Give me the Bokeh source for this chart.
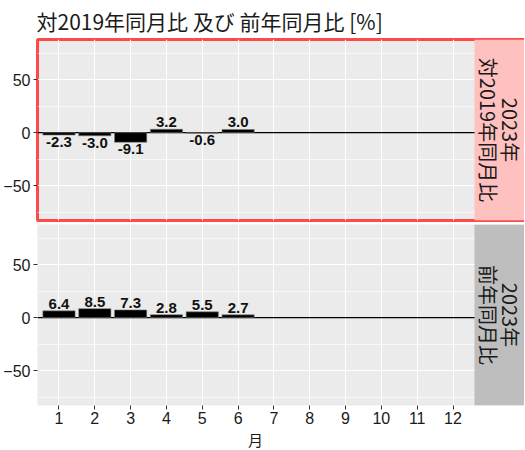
import math
from bokeh.plotting import figure
from bokeh.layouts import column
from bokeh.models import FixedTicker, Span, Title, Range1d
from bokeh.core.properties import value
from bokeh.embed import file_html
from bokeh.resources import INLINE

# ---- data ----
months = [1, 2, 3, 4, 5, 6]
vs2019 = [-2.3, -3.0, -9.1, 3.2, -0.6, 3.0]
vs_prev_year = [6.4, 8.5, 7.3, 2.8, 5.5, 2.7]
x_ticks = list(range(1, 13))
y_ticks = [-50, 0, 50]
y_minor = [-75, -25, 25, 75]
strip_labels = ["2023年\n対2019年同月比", "2023年\n前年同月比"]
strip_colors = ["#FFC0C0", "#BEBEBE"]
title_text = "対2019年同月比 及び 前年同月比 [%]"
x_label = "月"

# ---- layout constants ----
PANEL_PX = 437
STRIP_PX = 50
FRAME_W = PANEL_PX + STRIP_PX
FRAME_H = 181
X0, X1 = 0.4, 12.6
UNIT = PANEL_PX / (X1 - X0)
XS = X1 + STRIP_PX / UNIT
Y0, Y1 = -83, 88

CJK = "Noto Sans CJK JP"
LAT = "Liberation Sans"


def make_panel(vals, strip_text, strip_color, top):
    p = figure(frame_width=FRAME_W, frame_height=FRAME_H,
               x_range=Range1d(X0, XS), y_range=Range1d(Y0, Y1),
               output_backend="svg", toolbar_location=None,
               min_border_left=32, min_border_right=0,
               min_border_top=0 if top else 2,
               min_border_bottom=2 if top else 0)
    p.background_fill_color = "#EBEBEB"
    p.border_fill_color = "white"
    if top:
        p.outline_line_color = "#FF2A2A"
        p.outline_line_width = 3
        p.outline_line_alpha = 0.85
        p.title.text = title_text
        p.title.text_font = CJK
        p.title.text_font_size = "21px"
        p.title.text_font_style = "normal"
        p.title.text_color = "#1A1A1A"
        p.title.align = "left"
        p.title.standoff = 7
        p.title.offset = -1
    else:
        p.outline_line_color = None

    # axes
    p.xaxis.ticker = FixedTicker(ticks=x_ticks)
    p.yaxis.ticker = FixedTicker(ticks=y_ticks, minor_ticks=y_minor)
    for ax in (p.xaxis[0], p.yaxis[0]):
        ax.axis_line_color = None
        ax.major_tick_line_color = "#333333"
        ax.major_tick_out = 4
        ax.major_tick_in = 0
        ax.minor_tick_line_color = None
        ax.major_label_text_font = LAT
        ax.major_label_text_font_size = "16px"
        ax.major_label_text_color = "#1A1A1A"
        ax.major_label_standoff = 3
    p.xaxis.major_label_standoff = 2
    if top:
        p.xaxis.visible = False
    # grids
    p.xgrid.ticker = FixedTicker(ticks=x_ticks)
    p.ygrid.ticker = FixedTicker(ticks=y_ticks, minor_ticks=y_minor)
    p.grid.grid_line_color = "white"
    p.grid.grid_line_width = 1.1
    p.ygrid.minor_grid_line_color = "white"
    p.ygrid.minor_grid_line_width = 0.6

    p.add_layout(Span(location=0, dimension="width", line_color="black",
                      line_width=1.3, level="underlay"))

    p.vbar(x=months, top=vals, bottom=0, width=0.9, fill_color="black",
           line_color="#808080", line_width=0.6)

    pos_x = [m for m, v in zip(months, vals) if v >= 0]
    pos_y = [v for v in vals if v >= 0]
    neg_x = [m for m, v in zip(months, vals) if v < 0]
    neg_y = [v for v in vals if v < 0]
    lab = lambda arr: [f"{v:.1f}" for v in arr]
    p.text(x=pos_x, y=pos_y, text=lab(pos_y), text_align="center",
           text_baseline="bottom", y_offset=-2,
           text_font=value(LAT), text_font_style="bold",
           text_font_size="15px", text_color="#111111")
    p.text(x=neg_x, y=neg_y, text=lab(neg_y), text_align="center",
           text_baseline="top", y_offset=2,
           text_font=value(LAT), text_font_style="bold",
           text_font_size="15px", text_color="#111111")

    # facet strip
    p.quad(left=[X1], right=[XS], bottom=[Y0], top=[Y1],
           fill_color=strip_color, line_color=None)
    p.text(x=[(X1 + XS) / 2], y=[(Y0 + Y1) / 2], text=[strip_text],
           angle=-math.pi / 2, text_align="center", text_baseline="middle",
           text_font=value(CJK), text_font_size="20px",
           text_color="#1A1A1A", text_line_height=0.76)

    if not top:
        t = Title(text=x_label, align="left",
                  offset=(6.5 - X0) * UNIT - 8,
                  text_font=CJK, text_font_size="15px",
                  text_font_style="normal", text_color="#1A1A1A",
                  text_line_height=0.75, standoff=0)
        p.add_layout(t, "below")
    return p


p1 = make_panel(vs2019, strip_labels[0], strip_colors[0], True)
p2 = make_panel(vs_prev_year, strip_labels[1], strip_colors[1], False)

layout = column(p1, p2, spacing=0)
open("out.html", "w").write(file_html(layout, INLINE))
